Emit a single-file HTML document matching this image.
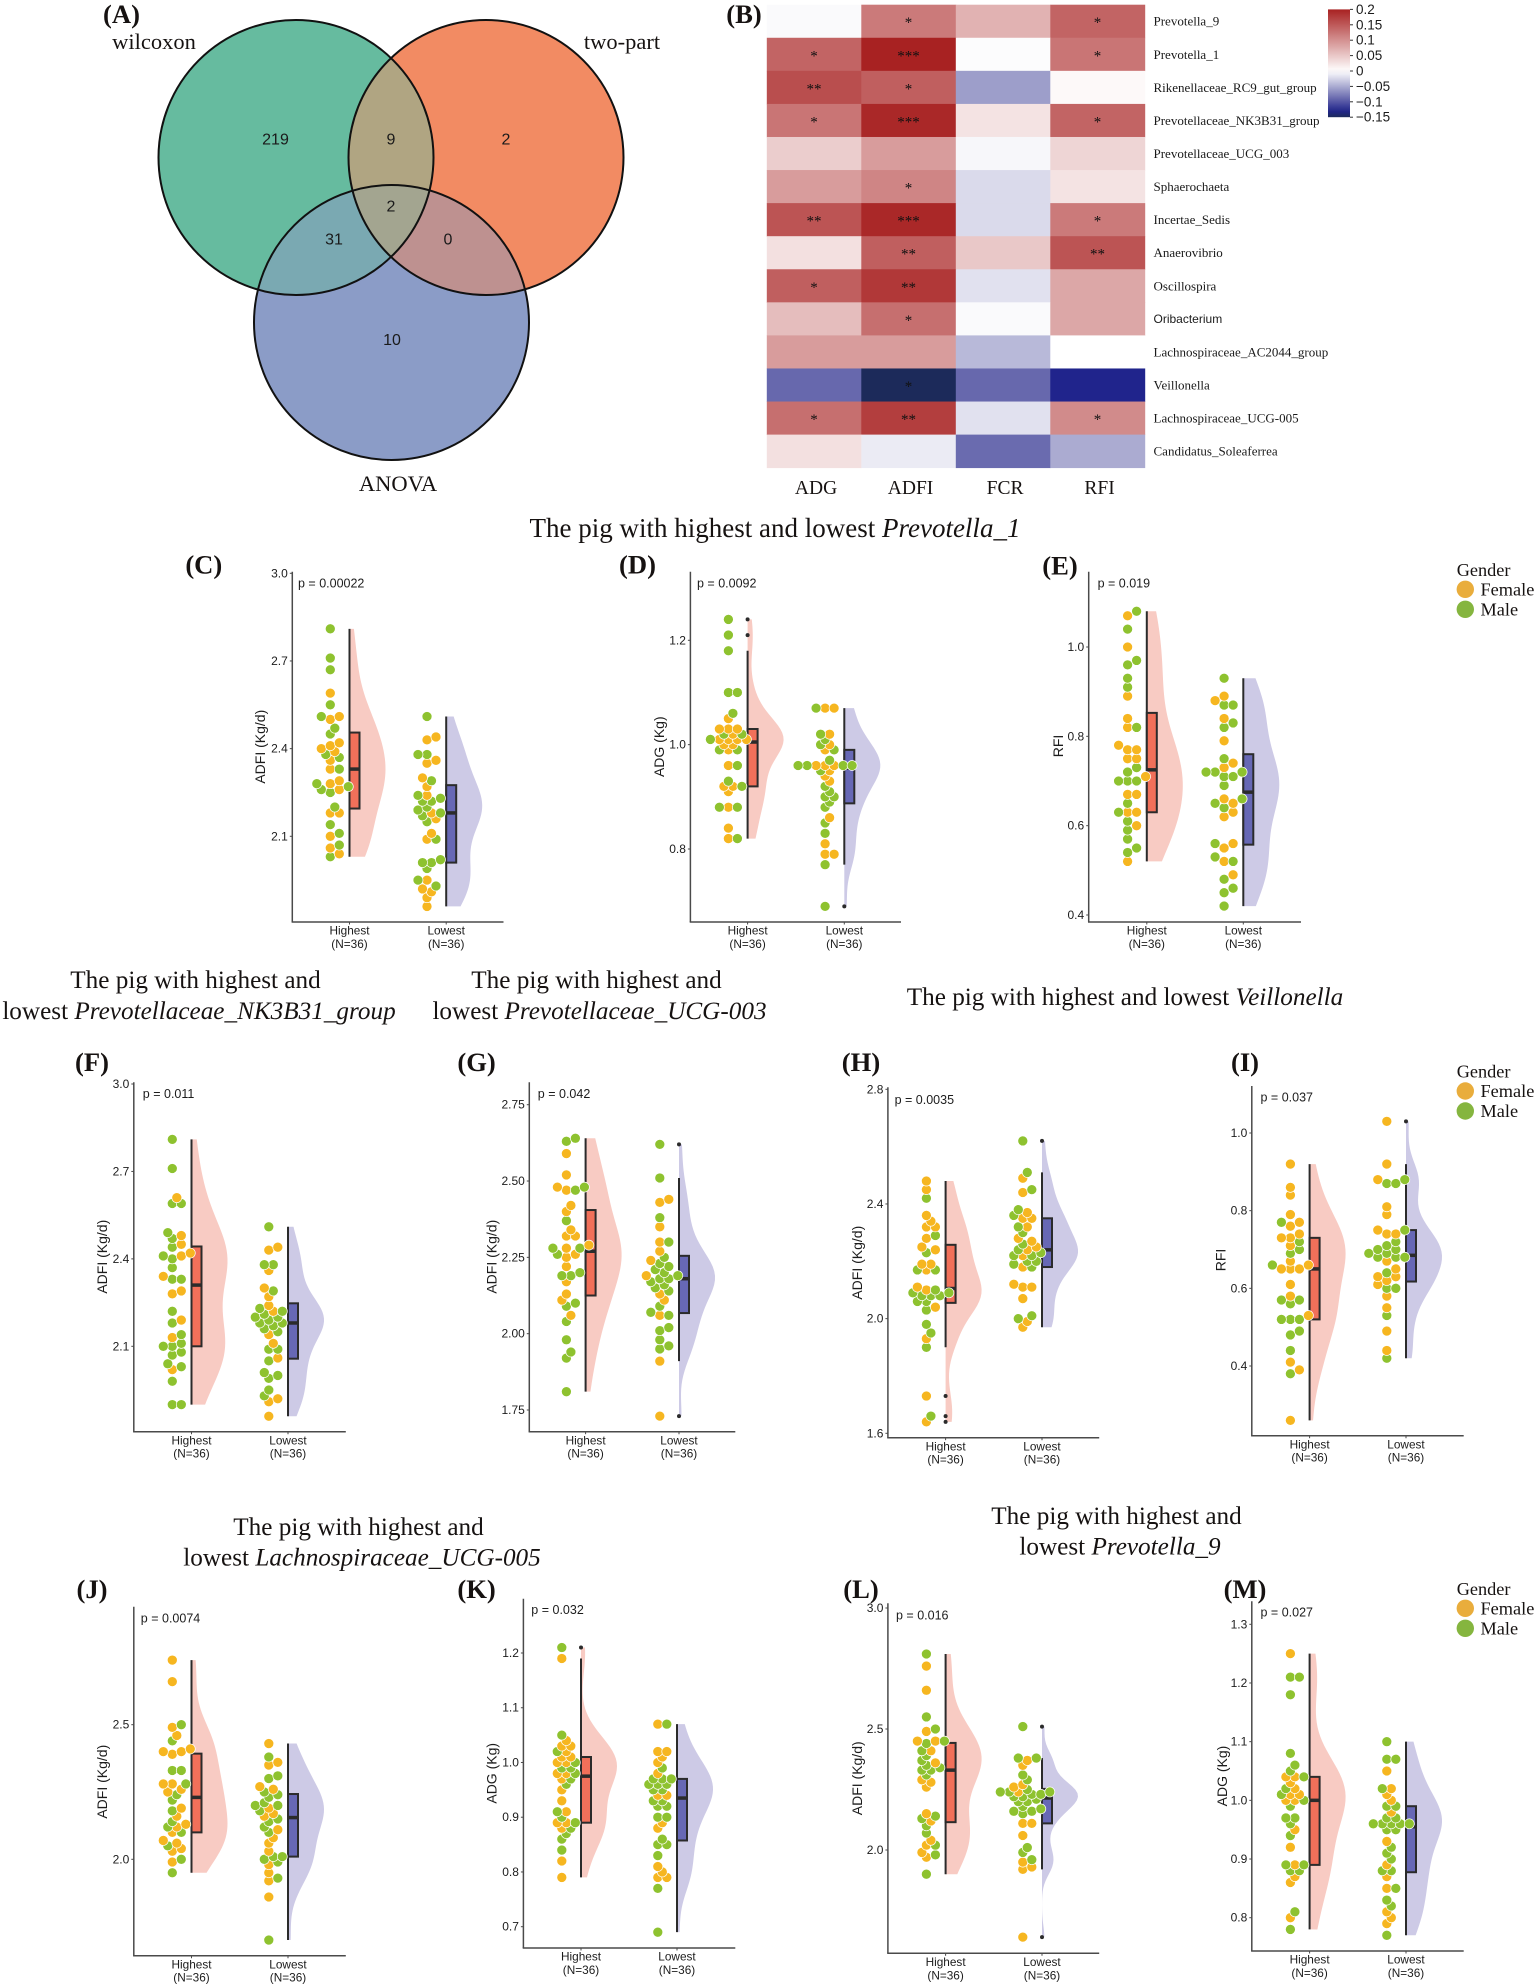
<!DOCTYPE html>
<html lang="en">
<head>
<meta charset="utf-8">
<title>Gut microbiota and feed efficiency in pigs</title>
<style>
html,body{margin:0;padding:0;background:#fff;}
svg{display:block;}
.serif{font-family:"Liberation Serif",serif;fill:#161211;}
.sans{font-family:"Liberation Sans",sans-serif;fill:#1c1c1c;}
.ttl{font-size:25.2px;text-anchor:middle;}
</style>
</head>
<body>
<svg id="figure" xmlns="http://www.w3.org/2000/svg" width="1535" height="1985" viewBox="0 0 1535 1985">
  <rect x="0" y="0" width="1535" height="1985" fill="#fff"/>
  <defs>
    <clipPath id="clipA"><circle cx="296" cy="157.5" r="137.5"/></clipPath>
    <clipPath id="clipB"><circle cx="486" cy="157.5" r="137.5"/></clipPath>
    <clipPath id="clipC"><circle cx="391.5" cy="322.5" r="137.5"/></clipPath>
  </defs>
  <g>
    <circle cx="296" cy="157.5" r="137.5" fill="#66bb9f"/>
    <circle cx="486" cy="157.5" r="137.5" fill="#f28b63"/>
    <circle cx="391.5" cy="322.5" r="137.5" fill="#8b9cc7"/>
    <g clip-path="url(#clipA)"><circle cx="486" cy="157.5" r="137.5" fill="#b0a582"/></g>
    <g clip-path="url(#clipA)"><circle cx="391.5" cy="322.5" r="137.5" fill="#7aa9b2"/></g>
    <g clip-path="url(#clipB)"><circle cx="391.5" cy="322.5" r="137.5" fill="#be9190"/></g>
    <g clip-path="url(#clipA)"><g clip-path="url(#clipB)"><circle cx="391.5" cy="322.5" r="137.5" fill="#a3a590"/></g></g>
    <circle cx="296" cy="157.5" r="137.5" fill="none" stroke="#111" stroke-width="2"/>
    <circle cx="486" cy="157.5" r="137.5" fill="none" stroke="#111" stroke-width="2"/>
    <circle cx="391.5" cy="322.5" r="137.5" fill="none" stroke="#111" stroke-width="2"/>
    <text class="serif" x="154" y="49" font-size="22.5" text-anchor="middle">wilcoxon</text>
    <text class="serif" x="622" y="49" font-size="22.5" text-anchor="middle">two-part</text>
    <text class="serif" x="398" y="491" font-size="22.5" text-anchor="middle">ANOVA</text>
  </g>
  <g>
    <text class="serif ttl" x="775" y="537" style="font-size:27px">The pig with highest and lowest <tspan font-style="italic">Prevotella_1</tspan></text>
    <text class="serif ttl" x="195.5" y="988">The pig with highest and</text>
    <text class="serif ttl" x="199" y="1019">lowest <tspan font-style="italic">Prevotellaceae_NK3B31_group</tspan></text>
    <text class="serif ttl" x="596.5" y="988">The pig with highest and</text>
    <text class="serif ttl" x="599.5" y="1019">lowest <tspan font-style="italic">Prevotellaceae_UCG-003</tspan></text>
    <text class="serif ttl" x="1125" y="1005">The pig with highest and lowest <tspan font-style="italic">Veillonella</tspan></text>
    <text class="serif ttl" x="358.5" y="1535">The pig with highest and</text>
    <text class="serif ttl" x="362" y="1565.5">lowest <tspan font-style="italic">Lachnospiraceae_UCG-005</tspan></text>
    <text class="serif ttl" x="1116.5" y="1524">The pig with highest and</text>
    <text class="serif ttl" x="1120" y="1554.5">lowest <tspan font-style="italic">Prevotella_9</tspan></text>
  </g>
  <g id="venn-counts"></g>
  <g id="heatmap"></g>
  <g id="raincloud-panels"></g>
  <g id="legends"></g>
</svg>
<script>
// ---------- Venn data ----------
const vennRegions = ['wilcoxon only', 'wilcoxon and two-part', 'two-part only', 'all three', 'wilcoxon and ANOVA', 'two-part and ANOVA', 'ANOVA only'];
const vennCounts = [219, 9, 2, 2, 31, 0, 10];

// ---------- Heatmap data ----------
const heatGenera = ['Prevotella_9', 'Prevotella_1', 'Rikenellaceae_RC9_gut_group', 'Prevotellaceae_NK3B31_group', 'Prevotellaceae_UCG_003', 'Sphaerochaeta', 'Incertae_Sedis', 'Anaerovibrio', 'Oscillospira', 'Oribacterium', 'Lachnospiraceae_AC2044_group', 'Veillonella', 'Lachnospiraceae_UCG-005', 'Candidatus_Soleaferrea'];
const heatTraits = ['ADG', 'ADFI', 'FCR', 'RFI'];
const heatValues = [
  [-0.003, 0.12, 0.07, 0.14],
  [0.14, 0.2, -0.002, 0.125],
  [0.16, 0.145, -0.058, 0.005],
  [0.125, 0.195, 0.025, 0.14],
  [0.045, 0.09, -0.005, 0.038],
  [0.09, 0.11, -0.022, 0.025],
  [0.155, 0.195, -0.022, 0.12],
  [0.028, 0.145, 0.05, 0.155],
  [0.145, 0.18, -0.018, 0.08],
  [0.06, 0.13, -0.003, 0.08],
  [0.09, 0.09, -0.042, 0],
  [-0.09, -0.15, -0.09, -0.13],
  [0.13, 0.175, -0.018, 0.105],
  [0.028, -0.012, -0.088, -0.05]
];
const heatStars = [
  ['', '*', '', '*'],
  ['*', '***', '', '*'],
  ['**', '*', '', ''],
  ['*', '***', '', '*'],
  ['', '', '', ''],
  ['', '*', '', ''],
  ['**', '***', '', '*'],
  ['', '**', '', '**'],
  ['*', '**', '', ''],
  ['', '*', '', ''],
  ['', '', '', ''],
  ['', '*', '', ''],
  ['*', '**', '', '*'],
  ['', '', '', '']
];
const colorbarTicks = ['0.2', '0.15', '0.1', '0.05', '0', '\u22120.05', '\u22120.1', '\u22120.15'];

// ---------- Raincloud data ----------
const cHighFemale = [2.59,2.51,2.50,2.42,2.41,2.40,2.39,2.36,2.33,2.29,2.28,2.26,2.18,2.18,2.10,2.06,2.04];
const cHighMale = [2.81,2.71,2.67,2.55,2.51,2.47,2.45,2.38,2.37,2.33,2.28,2.27,2.26,2.25,2.20,2.14,2.11,2.07,2.03];
const cLowFemale = [2.44,2.43,2.36,2.35,2.30,2.27,2.24,2.18,2.16,2.11,2.09,1.95,1.92,1.91,1.89,1.86];
const cLowMale = [2.51,2.38,2.38,2.29,2.24,2.23,2.22,2.22,2.20,2.18,2.17,2.19,2.15,2.09,2.02,2.01,2.01,1.99,1.95,1.93];
const cTicks = ['3.0','2.7','2.4','2.1'];

const dHighFemale = [1.05,1.03,1.03,1.03,1.02,1.01,1.01,1.01,1.01,1.00,1.00,.99,.96,.92,.92,.91,.88,.84,.82];
const dHighMale = [1.24,1.21,1.18,1.10,1.10,1.06,1.02,1.02,1.01,.99,.99,.96,.93,.92,.88,.88,.82];
const dLowFemale = [1.07,1.07,1.02,1.00,.99,.96,.96,.96,.95,.94,.93,.86,.81,.79,.79];
const dLowMale = [1.07,1.02,1.01,1.00,.99,.97,.96,.96,.96,.96,.95,.92,.91,.90,.90,.89,.88,.85,.83,.77,.69];
const dTicks = ['1.2','1.0','0.8'];

const eHighFemale = [1.07,1.00,.89,.84,.82,.78,.77,.77,.75,.75,.71,.67,.67,.63,.63,.60,.52];
const eHighMale = [1.08,1.04,.97,.96,.93,.91,.82,.73,.72,.70,.70,.70,.65,.63,.61,.59,.57,.55,.54];
const eLowFemale = [.89,.88,.84,.79,.74,.73,.66,.65,.63,.62,.56,.55,.52,.49];
const eLowMale = [.93,.87,.87,.83,.82,.75,.72,.72,.72,.71,.71,.69,.66,.65,.64,.56,.53,.52,.48,.46,.45,.42];
const eTicks = ['1.0','0.8','0.6','0.4'];

const fHighFemale = [2.61,2.48,2.45,2.42,2.41,2.34,2.29,2.28,2.19,2.13,2.02];
const fHighMale = [2.81,2.71,2.59,2.59,2.49,2.47,2.44,2.41,2.40,2.37,2.33,2.33,2.22,2.18,2.14,2.11,2.10,2.10,2.08,2.07,2.04,2.03,1.98,1.90,1.90];
const fLowFemale = [2.44,2.43,2.36,2.30,2.27,2.24,2.22,2.14,2.11,2.06,1.92,1.91,1.86];
const fLowMale = [2.51,2.38,2.38,2.29,2.23,2.22,2.21,2.20,2.20,2.19,2.18,2.18,2.17,2.16,2.15,2.09,2.09,2.05,2.01,2.00,1.99,1.95,1.93];
const fTicks = ['3.0','2.7','2.4','2.1'];

const gHighFemale = [2.59,2.52,2.48,2.47,2.42,2.40,2.34,2.32,2.32,2.29,2.28,2.26,2.25,2.22,2.17,2.13,2.11,2.06];
const gHighMale = [2.64,2.63,2.48,2.47,2.37,2.28,2.28,2.26,2.20,2.19,2.19,2.10,2.09,2.04,1.98,1.94,1.92,1.81];
const gLowFemale = [2.44,2.43,2.35,2.30,2.27,2.24,2.19,2.13,2.11,2.06,1.91,1.73];
const gLowMale = [2.62,2.51,2.38,2.30,2.25,2.23,2.22,2.21,2.20,2.19,2.18,2.18,2.17,2.16,2.15,2.14,2.09,2.07,2.06,2.02,2.01,1.98,1.96,1.95];
const gTicks = ['2.75','2.50','2.25','2.00','1.75'];

const hHighFemale = [2.48,2.45,2.36,2.34,2.32,2.32,2.28,2.25,2.24,2.19,2.19,2.17,2.11,2.10,2.04,1.93,1.73,1.64];
const hHighMale = [2.42,2.29,2.23,2.17,2.17,2.10,2.09,2.09,2.08,2.08,2.08,2.06,2.06,2.03,1.98,1.95,1.90,1.66];
const hLowFemale = [2.49,2.44,2.37,2.35,2.35,2.32,2.28,2.27,2.25,2.24,2.22,2.18,2.12,2.11,2.11,2.07,1.99,1.97];
const hLowMale = [2.62,2.51,2.45,2.38,2.36,2.32,2.30,2.26,2.24,2.23,2.22,2.22,2.20,2.20,2.19,2.18,2.01,2.00];
const hTicks = ['2.8','2.4','2.0','1.6'];

const iHighFemale = [.92,.86,.84,.79,.77,.76,.74,.73,.73,.71,.67,.66,.65,.65,.65,.61,.58,.53,.41,.39,.26];
const iHighMale = [.77,.72,.70,.69,.66,.57,.57,.56,.52,.52,.52,.49,.48,.44,.38];
const iLowFemale = [1.03,.92,.88,.81,.79,.75,.74,.74,.67,.65,.63,.63,.62,.61,.58,.55,.49,.44];
const iLowMale = [.88,.87,.87,.75,.72,.71,.70,.70,.69,.69,.68,.68,.68,.64,.60,.60,.53,.42];
const iTicks = ['1.0','0.8','0.6','0.4'];

const jHighFemale = [2.74,2.66,2.49,2.46,2.41,2.40,2.40,2.39,2.28,2.28,2.26,2.25,2.19,2.16,2.13,2.12,2.10,2.07,2.06,2.04,2.03,1.99];
const jHighMale = [2.50,2.44,2.33,2.33,2.28,2.24,2.22,2.18,2.14,2.12,2.10,2.05,2.00,1.95];
const jLowFemale = [2.43,2.36,2.35,2.27,2.26,2.19,2.17,2.16,2.11,2.08,2.06,2.03,1.98,1.95,1.92,1.86];
const jLowMale = [2.38,2.31,2.30,2.25,2.24,2.23,2.21,2.20,2.20,2.18,2.15,2.14,2.12,2.10,2.01,2.01,2.00,1.99,1.93,1.70];
const jTicks = ['2.5','2.0'];

const kHighFemale = [1.19,1.04,1.03,1.03,1.02,1.01,1.01,1.00,1.00,.98,.98,.97,.95,.93,.91,.89,.89,.88,.82,.79];
const kHighMale = [1.21,1.05,1.02,1.00,.99,.99,.98,.97,.96,.91,.90,.89,.88,.87,.86,.84];
const kLowFemale = [1.07,1.02,1.02,1.01,1.00,.98,.94,.94,.89,.88,.81,.80,.79,.79];
const kLowMale = [1.07,.99,.97,.97,.97,.96,.96,.96,.95,.95,.93,.93,.92,.92,.90,.90,.86,.85,.85,.83,.77,.69];
const kTicks = ['1.2','1.1','1.0','0.9','0.8','0.7'];

const lHighFemale = [2.76,2.66,2.49,2.45,2.45,2.41,2.36,2.29,2.28,2.26,2.15,2.12,2.04,2.02,1.99,1.97];
const lHighMale = [2.81,2.55,2.50,2.45,2.44,2.41,2.39,2.37,2.35,2.34,2.33,2.33,2.31,2.14,2.13,2.10,2.07,2.02,1.98,1.90];
const lLowFemale = [2.37,2.35,2.27,2.26,2.24,2.11,2.11,2.06,1.95,1.93,1.92,1.64];
const lLowMale = [2.51,2.38,2.38,2.31,2.29,2.25,2.24,2.24,2.24,2.23,2.23,2.22,2.22,2.21,2.20,2.20,2.18,2.17,2.16,2.16,2.15,2.01,1.99,1.96];
const lTicks = ['3.0','2.5','2.0'];

const mHighFemale = [1.25,1.04,1.04,1.03,1.02,1.01,1.01,1.00,1.00,.95,.92,.89,.87,.86,.80];
const mHighMale = [1.21,1.21,1.18,1.08,1.06,1.05,1.04,1.02,1.01,1.00,.99,.97,.97,.96,.94,.89,.89,.88,.88,.81,.78];
const mLowFemale = [1.05,1.02,1.01,1.00,.98,.93,.89,.87,.85,.81,.80,.79];
const mLowMale = [1.10,1.07,1.07,1.02,.99,.99,.97,.97,.96,.96,.96,.96,.96,.95,.95,.92,.91,.90,.88,.88,.85,.83,.82,.77];
const mTicks = ['1.3','1.2','1.1','1.0','0.9','0.8'];

const groupLabels = ['Highest', 'Lowest'];
const groupSizes = ['(N=36)', '(N=36)'];
const legendGenders = ['Female', 'Male'];

// ---------- Layout (not data) ----------
const layouts = [
  {id:'c', tag:'(C)', p:'p = 0.00022', yTitle:'ADFI (Kg/d)', ticks:cTicks, hf:cHighFemale, hm:cHighMale, lf:cLowFemale, lm:cLowMale, ax:292.3, right:503.5, top:571.7, bottom:922, v1:3.0, y1:573.3, v2:2.1, y2:836.3, c1:349.5, c2:446.2, px:298, py:583.3, tx:260, ty:746.7, lx:203.8, ly:564.7},
  {id:'d', tag:'(D)', p:'p = 0.0092', yTitle:'ADG (Kg)', ticks:dTicks, hf:dHighFemale, hm:dHighMale, lf:dLowFemale, lm:dLowMale, ax:690.4, right:901, top:571.7, bottom:922, v1:1.2, y1:640.3, v2:0.8, y2:849, c1:747.6, c2:844.3, px:697, py:583.3, tx:659, ty:746.7, lx:637.5, ly:564.7},
  {id:'e', tag:'(E)', p:'p = 0.019', yTitle:'RFI', ticks:eTicks, hf:eHighFemale, hm:eHighMale, lf:eLowFemale, lm:eLowMale, ax:1088.7, right:1301, top:571.7, bottom:922, v1:1.0, y1:647, v2:0.4, y2:915, c1:1146.8, c2:1243.3, px:1097.6, py:583.3, tx:1058, ty:746, lx:1060, ly:565.5},
  {id:'f', tag:'(F)', p:'p = 0.011', yTitle:'ADFI (Kg/d)', ticks:fTicks, hf:fHighFemale, hm:fHighMale, lf:fLowFemale, lm:fLowMale, ax:133.8, right:345.8, top:1082.3, bottom:1431.7, v1:3.0, y1:1084, v2:2.1, y2:1346.3, c1:191.5, c2:288, px:142.8, py:1094, tx:102, ty:1256.7, lx:92, ly:1062},
  {id:'g', tag:'(G)', p:'p = 0.042', yTitle:'ADFI (Kg/d)', ticks:gTicks, hf:gHighFemale, hm:gHighMale, lf:gLowFemale, lm:gLowMale, ax:529.3, right:735.3, top:1082.3, bottom:1431.7, v1:2.75, y1:1104.7, v2:1.75, y2:1410, c1:585.6, c2:679, px:537.8, py:1094, tx:491.5, ty:1256.7, lx:476.6, ly:1062},
  {id:'h', tag:'(H)', p:'p = 0.0035', yTitle:'ADFI (Kg/d)', ticks:hTicks, hf:hHighFemale, hm:hHighMale, lf:hLowFemale, lm:hLowMale, ax:887.9, right:1099.2, top:1087.3, bottom:1437.7, v1:2.8, y1:1089.3, v2:1.6, y2:1433.3, c1:945.6, c2:1042, px:894.6, py:1100, tx:857, ty:1262.7, lx:861, ly:1062},
  {id:'i', tag:'(I)', p:'p = 0.037', yTitle:'RFI', ticks:iTicks, hf:iHighFemale, hm:iHighMale, lf:iLowFemale, lm:iLowMale, ax:1251.8, right:1463.7, top:1086, bottom:1435.7, v1:1.0, y1:1133, v2:0.4, y2:1366, c1:1309.6, c2:1406, px:1260.5, py:1097.7, tx:1220.5, ty:1260, lx:1245, ly:1062},
  {id:'j', tag:'(J)', p:'p = 0.0074', yTitle:'ADFI (Kg/d)', ticks:jTicks, hf:jHighFemale, hm:jHighMale, lf:jLowFemale, lm:jLowMale, ax:133.8, right:345.8, top:1606.7, bottom:1955.7, v1:2.5, y1:1724.7, v2:2.0, y2:1859.3, c1:191.5, c2:288, px:140.8, py:1618.3, tx:102, ty:1781.7, lx:92, ly:1589},
  {id:'k', tag:'(K)', p:'p = 0.032', yTitle:'ADG (Kg)', ticks:kTicks, hf:kHighFemale, hm:kHighMale, lf:kLowFemale, lm:kLowMale, ax:523.4, right:735.3, top:1598.7, bottom:1948, v1:1.2, y1:1653, v2:0.7, y2:1926.7, c1:581, c2:677, px:531.3, py:1610, tx:491.5, ty:1773.3, lx:476.6, ly:1589},
  {id:'l', tag:'(L)', p:'p = 0.016', yTitle:'ADFI (Kg/d)', ticks:lTicks, hf:lHighFemale, hm:lHighMale, lf:lLowFemale, lm:lLowMale, ax:887.9, right:1099.2, top:1603.3, bottom:1953.3, v1:3.0, y1:1608, v2:2.0, y2:1850, c1:945.6, c2:1042, px:896, py:1615.3, tx:857, ty:1778.3, lx:861, ly:1589},
  {id:'m', tag:'(M)', p:'p = 0.027', yTitle:'ADG (Kg)', ticks:mTicks, hf:mHighFemale, hm:mHighMale, lf:mLowFemale, lm:mLowMale, ax:1251.8, right:1463.7, top:1601.3, bottom:1951, v1:1.3, y1:1624.3, v2:0.8, y2:1917.7, c1:1309.6, c2:1406, px:1260.5, py:1612.7, tx:1222, ty:1776, lx:1245, ly:1589}
];
const legendLayouts = [{x:1456.7, y:570}, {x:1456.7, y:1071.7}, {x:1456.7, y:1589}];
const fonts = {serif:'"Liberation Serif",serif', sans:'"Liberation Sans",sans-serif'};

const NS = 'http://www.w3.org/2000/svg';
function mk(tag, attrs, parent, txt) {
  const el = document.createElementNS(NS, tag);
  for (const k in attrs) el.setAttribute(k, attrs[k]);
  if (txt !== undefined) el.textContent = txt;
  parent.appendChild(el);
  return el;
}
function slug(s) {
  return String(s).toLowerCase().replace(/[^a-z0-9]+/g, '-').replace(/^-|-$/g, '');
}

// ---------- Venn counts ----------
(function () {
  const anchors = [[275.5,140],[391,140],[506,140],[391,207],[334,240],[448,240],[392,340.7]];
  const g = document.getElementById('venn-counts');
  vennCounts.forEach(function (count, i) {
    const el = mk('text', {x:anchors[i][0], y:anchors[i][1], 'font-size':16, 'text-anchor':'middle', 'dominant-baseline':'central', 'font-family':fonts.sans, fill:'#1a1a1a'}, g, count);
    
    
  });
  const t = mk('text', {x:121.5, y:23, 'font-size':26.6, 'font-weight':'bold', 'text-anchor':'middle', 'font-family':fonts.serif, fill:'#161211'}, g, '(A)');
  
  
})();

// ---------- Heatmap ----------
function hexToRgb(h) {
  return [parseInt(h.slice(1,3),16), parseInt(h.slice(3,5),16), parseInt(h.slice(5,7),16)];
}
function heatColor(v) {
  const stops = [[-0.15,'#1c2a5a'],[-0.13,'#20248c'],[-0.09,'#6768ad'],[0,'#ffffff'],[0.2,'#a82222']];
  if (v <= stops[0][0]) return stops[0][1];
  for (let i = 1; i < stops.length; i++) {
    if (v <= stops[i][0]) {
      const t = (v - stops[i-1][0]) / (stops[i][0] - stops[i-1][0]);
      const a = hexToRgb(stops[i-1][1]), b = hexToRgb(stops[i][1]);
      return 'rgb(' + a.map(function (c, j) { return Math.round(c + (b[j] - c) * t); }).join(',') + ')';
    }
  }
  return stops[stops.length-1][1];
}
(function () {
  const g = document.getElementById('heatmap');
  const left = 766.8, cellW = 94.5, top = 4.7, cellH = 33.07;
  const colX = function (j) { return left + j * cellW; };
  const rowY = function (i) { return top + i * cellH; };
  const barY = function (v) { return 71 - v / 0.05 * 15.4; };

  const panelTag = mk('text', {x:744, y:23, 'font-size':26.6, 'font-weight':'bold', 'text-anchor':'middle', 'font-family':fonts.serif, fill:'#161211'}, g, '(B)');
  
  

  heatGenera.forEach(function (genus, i) {
    heatTraits.forEach(function (trait, j) {
      const cell = mk('rect', {x:colX(j), y:rowY(i), width:cellW + 0.4, height:cellH + 0.4, fill:heatColor(heatValues[i][j])}, g);
      
      
      if (heatStars[i][j]) {
        const star = mk('text', {x:colX(j) + cellW / 2, y:rowY(i) + cellH / 2 + 6, 'font-size':15, 'text-anchor':'middle', 'font-family':fonts.serif, fill:'#111'}, g, heatStars[i][j]);
        
        
      }
    });
    const isSans = genus === 'Oribacterium';
    const lab = mk('text', {x:1153.5, y:rowY(i) + cellH / 2, 'font-size':isSans ? 12 : 13, 'dominant-baseline':'central', 'font-family':isSans ? fonts.sans : fonts.serif, fill:'#1a1a1a'}, g, genus);
    
    
  });
  heatTraits.forEach(function (trait, j) {
    const lab = mk('text', {x:colX(j) + cellW / 2 + 2, y:494, 'font-size':19.5, 'text-anchor':'middle', 'font-family':fonts.serif, fill:'#161211'}, g, trait);
    
    
  });

  const defs = document.querySelector('#figure defs');
  const grad = mk('linearGradient', {id:'colorbarGradient', x1:0, y1:0, x2:0, y2:1}, defs);
  for (let k = 0; k <= 20; k++) {
    const v = 0.2 - k * 0.35 / 20;
    mk('stop', {offset:(k / 20), 'stop-color':heatColor(v)}, grad);
  }
  const bar = mk('rect', {x:1328, y:barY(0.2), width:22, height:barY(-0.15) - barY(0.2), fill:'url(#colorbarGradient)'}, g);
  
  
  colorbarTicks.forEach(function (t) {
    const v = parseFloat(t.replace('\u2212', '-'));
    const tick = mk('line', {x1:1350, x2:1353, y1:barY(v), y2:barY(v), stroke:'#333', 'stroke-width':1}, g);
    
    
    const lab = mk('text', {x:1356, y:barY(v), 'font-size':13.5, 'dominant-baseline':'central', 'font-family':fonts.sans, fill:'#1a1a1a'}, g, t);
    
    
  });
})();

// ---------- Statistics ----------
function quantile(sorted, q) {
  const pos = (sorted.length - 1) * q;
  const lo = Math.floor(pos), hi = Math.ceil(pos);
  return sorted[lo] + (sorted[hi] - sorted[lo]) * (pos - lo);
}
function boxStats(values) {
  const s = values.slice().sort(function (a, b) { return a - b; });
  const q1 = quantile(s, 0.25), med = quantile(s, 0.5), q3 = quantile(s, 0.75);
  const iqr = q3 - q1;
  const inside = s.filter(function (v) { return v >= q1 - 1.5 * iqr - 1e-9 && v <= q3 + 1.5 * iqr + 1e-9; });
  const lowW = inside[0], highW = inside[inside.length - 1];
  const outliers = s.filter(function (v) { return v < lowW || v > highW; });
  return {q1:q1, med:med, q3:q3, lowW:lowW, highW:highW, outliers:outliers, min:s[0], max:s[s.length - 1], iqr:iqr};
}
function densityCurve(values, stats) {
  const n = values.length;
  const mean = values.reduce(function (a, b) { return a + b; }, 0) / n;
  const sd = Math.sqrt(values.reduce(function (a, b) { return a + (b - mean) * (b - mean); }, 0) / (n - 1));
  const bw = 0.9 * Math.min(sd, stats.iqr / 1.34) * Math.pow(n, -0.2);
  const out = [];
  const steps = 60;
  for (let i = 0; i <= steps; i++) {
    const v = stats.min + (stats.max - stats.min) * i / steps;
    let d = 0;
    values.forEach(function (x) {
      const z = (v - x) / bw;
      d += Math.exp(-0.5 * z * z);
    });
    out.push({v:v, d:d});
  }
  return out;
}
function swarmOffsets(ys) {
  const step = 4.5, minDist = 6.4;
  const placed = [];
  return ys.map(function (y) {
    for (let k = 0; k < 12; k++) {
      const candidates = k === 0 ? [0] : [k * step, -k * step];
      for (const dx of candidates) {
        const clash = placed.some(function (p) {
          const a = p.x - dx, b = p.y - y;
          return a * a + b * b < minDist * minDist;
        });
        if (!clash) {
          placed.push({x:dx, y:y});
          return dx;
        }
      }
    }
    return 0;
  });
}

// ---------- Raincloud panels ----------
function drawGroup(g, panelId, groupName, cx, yScale, female, male, fills) {
  const values = female.concat(male);
  const stats = boxStats(values);
  const curve = densityCurve(values, stats);
  const peak = Math.max.apply(null, curve.map(function (c) { return c.d; }));
  const widthScale = function (d) { return d / peak * 36; };

  let path = 'M' + cx + ' ' + yScale(stats.min);
  curve.forEach(function (c) {
    path += 'L' + (cx + widthScale(c.d)).toFixed(2) + ' ' + yScale(c.v).toFixed(2);
  });
  path += 'L' + cx + ' ' + yScale(stats.max) + 'Z';
  const violin = mk('path', {d:path, fill:fills.cloud}, g);
  
  

  const whisker = mk('line', {x1:cx, x2:cx, y1:yScale(stats.highW), y2:yScale(stats.lowW), stroke:'#2b2b2b', 'stroke-width':2}, g);
  
  

  const box = mk('rect', {x:cx, y:yScale(stats.q3), width:10, height:yScale(stats.q1) - yScale(stats.q3), fill:fills.box, stroke:'#2b2b2b', 'stroke-width':2}, g);
  
  

  const median = mk('line', {x1:cx, x2:cx + 10, y1:yScale(stats.med), y2:yScale(stats.med), stroke:'#2b2b2b', 'stroke-width':3.5}, g);
  
  

  stats.outliers.forEach(function (v) {
    const o = mk('circle', {cx:cx, cy:yScale(v), r:2, fill:'#2b2b2b'}, g);
    
    
  });

  const points = female.map(function (v) { return {v:v, c:'#f6b620', s:'female'}; })
    .concat(male.map(function (v) { return {v:v, c:'#8ec22f', s:'male'}; }))
    .sort(function (a, b) { return a.v - b.v; });
  const offsets = swarmOffsets(points.map(function (p) { return yScale(p.v); }));
  points.forEach(function (p, i) {
    const dot = mk('circle', {cx:cx - 19.2 + offsets[i], cy:yScale(p.v), r:5, fill:p.c, stroke:'#fff', 'stroke-width':0.7}, g);
    
    
  });
}

(function () {
  const root = document.getElementById('raincloud-panels');
  layouts.forEach(function (p) {
    const g = mk('g', {}, root);
    
    
    const yScale = function (v) { return p.y1 + (v - p.v1) * (p.y2 - p.y1) / (p.v2 - p.v1); };

    const tag = mk('text', {x:p.lx, y:p.ly + 9, 'font-size':26.6, 'font-weight':'bold', 'text-anchor':'middle', 'font-family':fonts.serif, fill:'#161211'}, g, p.tag);
    
    

    drawGroup(g, p.id, 'highest', p.c1, yScale, p.hf, p.hm, {cloud:'#f8cbc3', box:'#f1705a'});
    drawGroup(g, p.id, 'lowest', p.c2, yScale, p.lf, p.lm, {cloud:'#cdcae6', box:'#6768b5'});

    const yAxis = mk('line', {x1:p.ax, x2:p.ax, y1:p.top, y2:p.bottom, stroke:'#4a4a4a', 'stroke-width':1.5}, g);
    
    
    const xAxis = mk('line', {x1:p.ax - 0.7, x2:p.right, y1:p.bottom, y2:p.bottom, stroke:'#4a4a4a', 'stroke-width':1.5}, g);
    
    

    p.ticks.forEach(function (t) {
      const y = yScale(parseFloat(t));
      const tick = mk('line', {x1:p.ax - 2.5, x2:p.ax, y1:y, y2:y, stroke:'#4a4a4a', 'stroke-width':1}, g);
      
      
      const lab = mk('text', {x:p.ax - 4.5, y:y, 'font-size':12, 'text-anchor':'end', 'dominant-baseline':'central', 'font-family':fonts.sans, fill:'#1c1c1c'}, g, t);
      
      
    });

    [p.c1, p.c2].forEach(function (cx, i) {
      const tick = mk('line', {x1:cx, x2:cx, y1:p.bottom, y2:p.bottom + 2.5, stroke:'#4a4a4a', 'stroke-width':1}, g);
      
      
      const lab = mk('text', {x:cx, y:p.bottom + 8.7, 'font-size':11.8, 'text-anchor':'middle', 'dominant-baseline':'central', 'font-family':fonts.sans, fill:'#1c1c1c'}, g, groupLabels[i]);
      
      
      const size = mk('text', {x:cx, y:p.bottom + 22, 'font-size':11.8, 'text-anchor':'middle', 'dominant-baseline':'central', 'font-family':fonts.sans, fill:'#1c1c1c'}, g, groupSizes[i]);
      
      
    });

    const pLabel = mk('text', {x:p.px, y:p.py, 'font-size':12.5, 'dominant-baseline':'central', 'font-family':fonts.sans, fill:'#1c1c1c'}, g, p.p);
    
    

    const yTitle = mk('text', {x:p.tx, y:p.ty, 'font-size':14, 'text-anchor':'middle', 'dominant-baseline':'central', 'font-family':fonts.sans, fill:'#1c1c1c', transform:'rotate(-90 ' + p.tx + ' ' + p.ty + ')'}, g, p.yTitle);
    
    
  });

  const legendRoot = document.getElementById('legends');
  legendLayouts.forEach(function (l) {
    const g = mk('g', {}, legendRoot);
    
    
    const head = mk('text', {x:l.x, y:l.y, 'font-size':18.3, 'dominant-baseline':'central', 'font-family':fonts.serif, fill:'#161211'}, g, 'Gender');
    
    
    legendGenders.forEach(function (name, i) {
      const cy = l.y + 19.3 + i * 20;
      const swatch = mk('circle', {cx:l.x + 8.6, cy:cy, r:8.7, fill:i === 0 ? '#e9ad3c' : '#85b53f'}, g);
      
      
      const lab = mk('text', {x:l.x + 23.8, y:cy, 'font-size':18.3, 'dominant-baseline':'central', 'font-family':fonts.serif, fill:'#161211'}, g, name);
      
      
    });
  });
})();
</script>
</body>
</html>
